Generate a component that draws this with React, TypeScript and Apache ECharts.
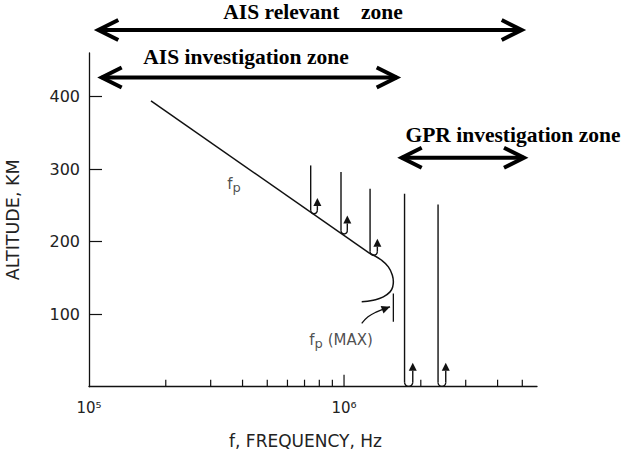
import React, { useEffect, useRef } from 'react';
import * as echarts from 'echarts';

// ---- axis ticks ----
const minorFreqTicks = [2e5, 3e5, 4e5, 5e5, 6e5, 7e5, 8e5, 9e5, 2e6, 3e6, 4e6, 5e6];
const decadeFreqTicks = [1e6];
const altitudeTicks = [100, 200, 300, 400];
const supDigits: Record<string, string> = { '5': '\u2075', '6': '\u2076', '7': '\u2077' };

// ---- plasma frequency curve f_p ----
const fpLineFreq = [1.75e5, 1.265e6];
const fpLineAlt = [394, 183.6];
const fpNoseFreq = [1.265e6, 1.405e6, 1.492e6, 1.547e6, 1.561e6, 1.552e6, 1.515e6, 1.426e6, 1.302e6, 1.173e6];
const fpNoseAlt = [183.6, 174.3, 165.1, 153.7, 144.5, 137.6, 130.7, 123.8, 119.3, 117.0];

// ---- f_p(MAX) marker and pointer ----
const fpMaxFreq = [1.561e6, 1.561e6];
const fpMaxAlt = [128.5, 89.5];
const pointerFreq = [1.173e6, 1.242e6, 1.343e6, 1.448e6, 1.515e6];
const pointerAlt = [87.2, 96.3, 103.2, 107.9, 110.1];

// ---- sounding rays (down, reflect, back up) ----
const rayFreq = [7.4e5, 9.73e5, 1.265e6, 1.727e6, 2.337e6];
const rayTopAlt = [305, 296, 273, 266, 251];
const rayBottomAlt = [238.6, 210.5, 181.2, 0.5, 0.5];
const rayReturnFreq = [7.86e5, 1.03e6, 1.351e6, 1.86e6, 2.505e6];
const rayTipAlt = [260, 236, 204, 33, 33];

// ---- text labels ----
const fpLabelPos = [3.7e5, 279.6];
const fpMaxLabelPos = [9.73e5, 64.3];

const INK = '#111';
const TXT = '#222';
const SANS = 'DejaVu Sans';
const SERIF = '"Liberation Serif", "Times New Roman", serif';

function zoneArrow(x1: number, x2: number, y: number) {
  const s = { stroke: '#000', lineWidth: 4, fill: null as any, lineJoin: 'miter' as const };
  return [
    { type: 'line', shape: { x1, y1: y, x2, y2: y }, style: s },
    { type: 'polyline', shape: { points: [[x1 + 20, y - 10], [x1, y], [x1 + 20, y + 10]] }, style: s },
    { type: 'polyline', shape: { points: [[x2 - 20, y - 10], [x2, y], [x2 - 20, y + 10]] }, style: s },
  ];
}

function plainText(text: string, x: number, y: number, fontSize: number, fontFamily: string, fontWeight: string, fill: string) {
  return {
    type: 'text',
    x,
    y,
    style: {
      text,
      fontSize,
      fontWeight,
      fontFamily,
      fill,
      align: 'center',
      verticalAlign: 'middle',
      textAlign: 'center',
      textVerticalAlign: 'middle',
    },
  };
}

const zoneText = (text: string, x: number, y: number) => plainText(text, x, y, 21.5, SERIF, 'bold', '#000');

const isPow10 = (v: number) => Math.abs(Math.log10(v) - Math.round(Math.log10(v))) < 1e-6;

const option: any = {
  animation: false,
  backgroundColor: '#fff',
  grid: { left: 89, right: 84, top: 53, bottom: 64.3, containLabel: false, outerBoundsMode: 'none' },
  xAxis: {
    type: 'log',
    logBase: 10,
    min: 1e5,
    max: 5.71e6,
    axisLine: { show: true, onZero: false, lineStyle: { color: INK, width: 1.3 } },
    axisTick: { show: false },
    minorTick: { show: false },
    splitLine: { show: false },
    axisLabel: {
      showMaxLabel: false,
      margin: 14,
      fontSize: 15,
      fontFamily: SANS,
      color: TXT,
      formatter: (v: number) => {
        if (!isPow10(v)) return '';
        const e = String(Math.round(Math.log10(v)));
        return '10' + (supDigits[e] || e);
      },
    },
  },
  yAxis: {
    type: 'value',
    min: 0,
    max: 460,
    axisLine: { show: true, onZero: false, lineStyle: { color: INK, width: 1.3 } },
    axisTick: { show: true, inside: true, length: 13, customValues: altitudeTicks, lineStyle: { color: INK, width: 1.2 } },
    axisLabel: { customValues: altitudeTicks, margin: 9, fontSize: 16, fontFamily: SANS, color: TXT },
    splitLine: { show: false },
    name: 'ALTITUDE, KM',
    nameLocation: 'middle',
    nameRotate: 90,
    nameGap: 67,
    nameTextStyle: { fontSize: 17.5, fontFamily: SANS, color: TXT },
  },
  series: [
    {
      name: 'freqTicks',
      type: 'custom',
      silent: true,
      clip: false,
      data: [
        ...minorFreqTicks.map((f) => [f, 0, 7]),
        ...decadeFreqTicks.map((f) => [f, 0, 12]),
      ],
      renderItem: (_p: any, api: any) => {
        const p = api.coord([api.value(0), api.value(1)]);
        return {
          type: 'line',
          shape: { x1: p[0], y1: p[1], x2: p[0], y2: p[1] - api.value(2) },
          style: { stroke: INK, lineWidth: 1.2 },
        };
      },
    },
    {
      name: 'fp',
      type: 'line',
      showSymbol: false,
      silent: true,
      lineStyle: { color: INK, width: 1.5 },
      data: fpLineFreq.map((f, i) => [f, fpLineAlt[i]]),
    },
    {
      name: 'fpNose',
      type: 'line',
      showSymbol: false,
      silent: true,
      smooth: 0.5,
      lineStyle: { color: INK, width: 1.5 },
      data: fpNoseFreq.map((f, i) => [f, fpNoseAlt[i]]),
    },
    {
      name: 'fpMax',
      type: 'line',
      showSymbol: false,
      silent: true,
      lineStyle: { color: INK, width: 1.3 },
      data: fpMaxFreq.map((f, i) => [f, fpMaxAlt[i]]),
    },
    {
      name: 'pointer',
      type: 'line',
      showSymbol: false,
      silent: true,
      smooth: 0.4,
      lineStyle: { color: INK, width: 1.3 },
      data: pointerFreq.map((f, i) => [f, pointerAlt[i]]),
    },
    {
      name: 'pointerHead',
      type: 'custom',
      silent: true,
      clip: false,
      data: [[pointerFreq[2], pointerAlt[2], pointerFreq[4], pointerAlt[4]]],
      renderItem: (_p: any, api: any) => {
        const a = api.coord([api.value(0), api.value(1)]);
        const b = api.coord([api.value(2), api.value(3)]);
        const ang = Math.atan2(b[1] - a[1], b[0] - a[0]);
        const L = 8.5;
        const W = 4;
        const bx = b[0] - L * Math.cos(ang);
        const by = b[1] - L * Math.sin(ang);
        const nx = -Math.sin(ang);
        const ny = Math.cos(ang);
        return {
          type: 'polygon',
          shape: { points: [[b[0], b[1]], [bx + nx * W, by + ny * W], [bx - nx * W, by - ny * W]] },
          style: { fill: INK },
        };
      },
    },
    {
      name: 'rays',
      type: 'custom',
      silent: true,
      clip: false,
      data: rayFreq.map((f, i) => [f, rayTopAlt[i], rayBottomAlt[i], rayReturnFreq[i], rayTipAlt[i]]),
      renderItem: (_p: any, api: any) => {
        const top = api.coord([api.value(0), api.value(1)]);
        const bot = api.coord([api.value(0), api.value(2)]);
        const ret = api.coord([api.value(3), api.value(2)]);
        const tip = api.coord([api.value(3), api.value(4)]);
        const x1 = top[0];
        const x2 = ret[0];
        const r = (x2 - x1) / 2;
        const cy = bot[1] - r;
        const headH = 8;
        const hw = 4;
        const st = { stroke: INK, lineWidth: 1.4, fill: 'none' };
        return {
          type: 'group',
          children: [
            { type: 'line', shape: { x1, y1: top[1], x2: x1, y2: cy }, style: st },
            { type: 'arc', shape: { cx: (x1 + x2) / 2, cy, r, startAngle: 0, endAngle: Math.PI, clockwise: true }, style: st },
            { type: 'line', shape: { x1: x2, y1: cy, x2, y2: tip[1] + headH }, style: st },
            {
              type: 'polygon',
              shape: { points: [[x2, tip[1]], [x2 - hw, tip[1] + headH], [x2 + hw, tip[1] + headH]] },
              style: { fill: INK },
            },
          ],
        };
      },
    },
    {
      name: 'labels',
      type: 'scatter',
      symbolSize: 0,
      silent: true,
      label: {
        show: true,
        position: 'inside',
        rich: {
          f: { fontSize: 15, lineHeight: 20, fontFamily: SANS, color: TXT },
          p: { fontSize: 13, lineHeight: 12, verticalAlign: 'bottom', fontFamily: SANS, color: TXT },
          m: { fontSize: 15, lineHeight: 20, fontFamily: SANS, color: TXT, padding: [0, 0, 0, 5] },
        },
      },
      data: [
        { value: fpLabelPos, label: { formatter: '{f|f}{p|p}' } },
        { value: fpMaxLabelPos, label: { formatter: '{f|f}{p|p}{m|(MAX)}' } },
      ],
    },
  ],
  graphic: [
    ...zoneArrow(98.3, 521.7, 30),
    ...zoneArrow(101.7, 396.7, 77.5),
    ...zoneArrow(401.7, 524, 157.7),
    zoneText('AIS relevant    zone', 313, 12),
    zoneText('AIS investigation zone', 246, 56.7),
    zoneText('GPR investigation zone', 513, 135),
    plainText('f, FREQUENCY, Hz', 305.5, 440.5, 17, SANS, 'normal', TXT),
  ],
};

export default function App() {
  const ref = useRef<HTMLDivElement>(null);
  useEffect(() => {
    const chart = echarts.init(ref.current!, null, { renderer: 'svg' });
    chart.setOption(option);
    return () => chart.dispose();
  }, []);
  return <div ref={ref} style={{ width: 621, height: 451, position: 'absolute', left: 0, top: 0 }} />;
}
